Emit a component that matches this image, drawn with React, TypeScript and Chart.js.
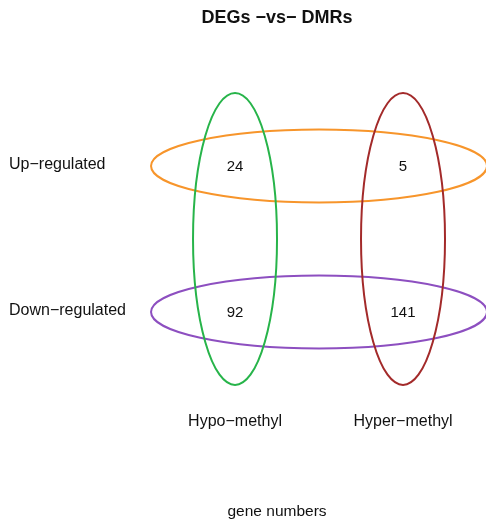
import React, { useEffect, useRef } from "react";
import { Chart, registerables } from "chart.js";

Chart.register(...registerables);

// Rows (expression direction) and columns (methylation direction)
const rowLabels = ["Up\u2212regulated", "Down\u2212regulated"];
const colLabels = ["Hypo\u2212methyl", "Hyper\u2212methyl"];
const rowValues = [2, 1];
const colValues = [1, 2];
// Gene counts per row (Up, Down) for each column (Hypo, Hyper)
const hypoCounts = [24, 92];
const hyperCounts = [5, 141];

const rowColors = ["#f7952b", "#8d4fc0"];
const colColors = ["#27b44a", "#a32a2a"];

const titleText = "DEGs \u2212vs\u2212 DMRs";
const footerText = "gene numbers";

const FONT = "'Liberation Sans', Arial, Helvetica, sans-serif";

const vennPlugin = {
  id: "vennEllipses",
  afterDatasetsDraw(chart: any) {
    const { ctx, scales } = chart;
    const xs = scales.x;
    const ys = scales.y;
    const unitX = Math.abs(xs.getPixelForValue(1) - xs.getPixelForValue(0));
    const unitY = Math.abs(ys.getPixelForValue(1) - ys.getPixelForValue(0));
    const midX = (colValues[0] + colValues[1]) / 2;
    const midY = (rowValues[0] + rowValues[1]) / 2;

    ctx.save();
    ctx.lineWidth = 2;
    // horizontal ellipses (rows)
    rowValues.forEach((rv, i) => {
      ctx.beginPath();
      ctx.ellipse(
        xs.getPixelForValue(midX),
        ys.getPixelForValue(rv),
        unitX * 1.0,
        unitY * 0.25,
        0,
        0,
        Math.PI * 2
      );
      ctx.strokeStyle = rowColors[i];
      ctx.stroke();
    });
    // vertical ellipses (columns)
    colValues.forEach((cv, i) => {
      ctx.beginPath();
      ctx.ellipse(
        xs.getPixelForValue(cv),
        ys.getPixelForValue(midY),
        unitX * 0.25,
        unitY * 1.0,
        0,
        0,
        Math.PI * 2
      );
      ctx.strokeStyle = colColors[i];
      ctx.stroke();
    });

    // counts in each intersection
    ctx.fillStyle = "#111";
    ctx.textAlign = "center";
    ctx.textBaseline = "middle";
    ctx.font = `15px ${FONT}`;
    const counts = [hypoCounts, hyperCounts];
    colValues.forEach((cv, ci) => {
      rowValues.forEach((rv, ri) => {
        ctx.fillText(
          String(counts[ci][ri]),
          xs.getPixelForValue(cv),
          ys.getPixelForValue(rv) + 1
        );
      });
    });

    // row labels
    ctx.font = `16px ${FONT}`;
    ctx.textAlign = "left";
    rowValues.forEach((rv, ri) => {
      ctx.fillText(rowLabels[ri], chart.chartArea.left + 9, ys.getPixelForValue(rv) - 1);
    });

    // column labels
    ctx.textAlign = "center";
    colValues.forEach((cv, ci) => {
      ctx.fillText(colLabels[ci], xs.getPixelForValue(cv), ys.getPixelForValue(0.247));
    });

    // footer
    ctx.font = `15.5px ${FONT}`;
    ctx.fillText(footerText, xs.getPixelForValue(1.25), ys.getPixelForValue(-0.37));

    // title
    ctx.font = `bold 18px ${FONT}`;
    ctx.fillText(titleText, xs.getPixelForValue(1.25), ys.getPixelForValue(3.015));
    ctx.restore();
  },
};

export default function App() {
  const canvasRef = useRef<HTMLCanvasElement | null>(null);

  useEffect(() => {
    document.body.style.margin = "0";
    document.body.style.background = "#ffffff";
    const canvas = canvasRef.current;
    if (!canvas) return;
    const chart = new Chart(canvas, {
      type: "scatter",
      data: {
        datasets: [
          {
            data: [],
          },
        ],
      },
      options: {
        animation: false,
        responsive: false,
        maintainAspectRatio: false,
        layout: { padding: 0 },
        plugins: {
          legend: { display: false },
          tooltip: { enabled: false },
          title: { display: false },
        },
        scales: {
          x: { type: "linear", display: false, min: -0.399, max: 2.494 },
          y: { type: "linear", display: false, min: -0.432, max: 3.137 },
        },
      },
      plugins: [vennPlugin],
    });
    return () => chart.destroy();
  }, []);

  return (
    <div style={{ width: 486, height: 521, background: "#fff" }}>
      <canvas ref={canvasRef} width={486} height={521} />
    </div>
  );
}
